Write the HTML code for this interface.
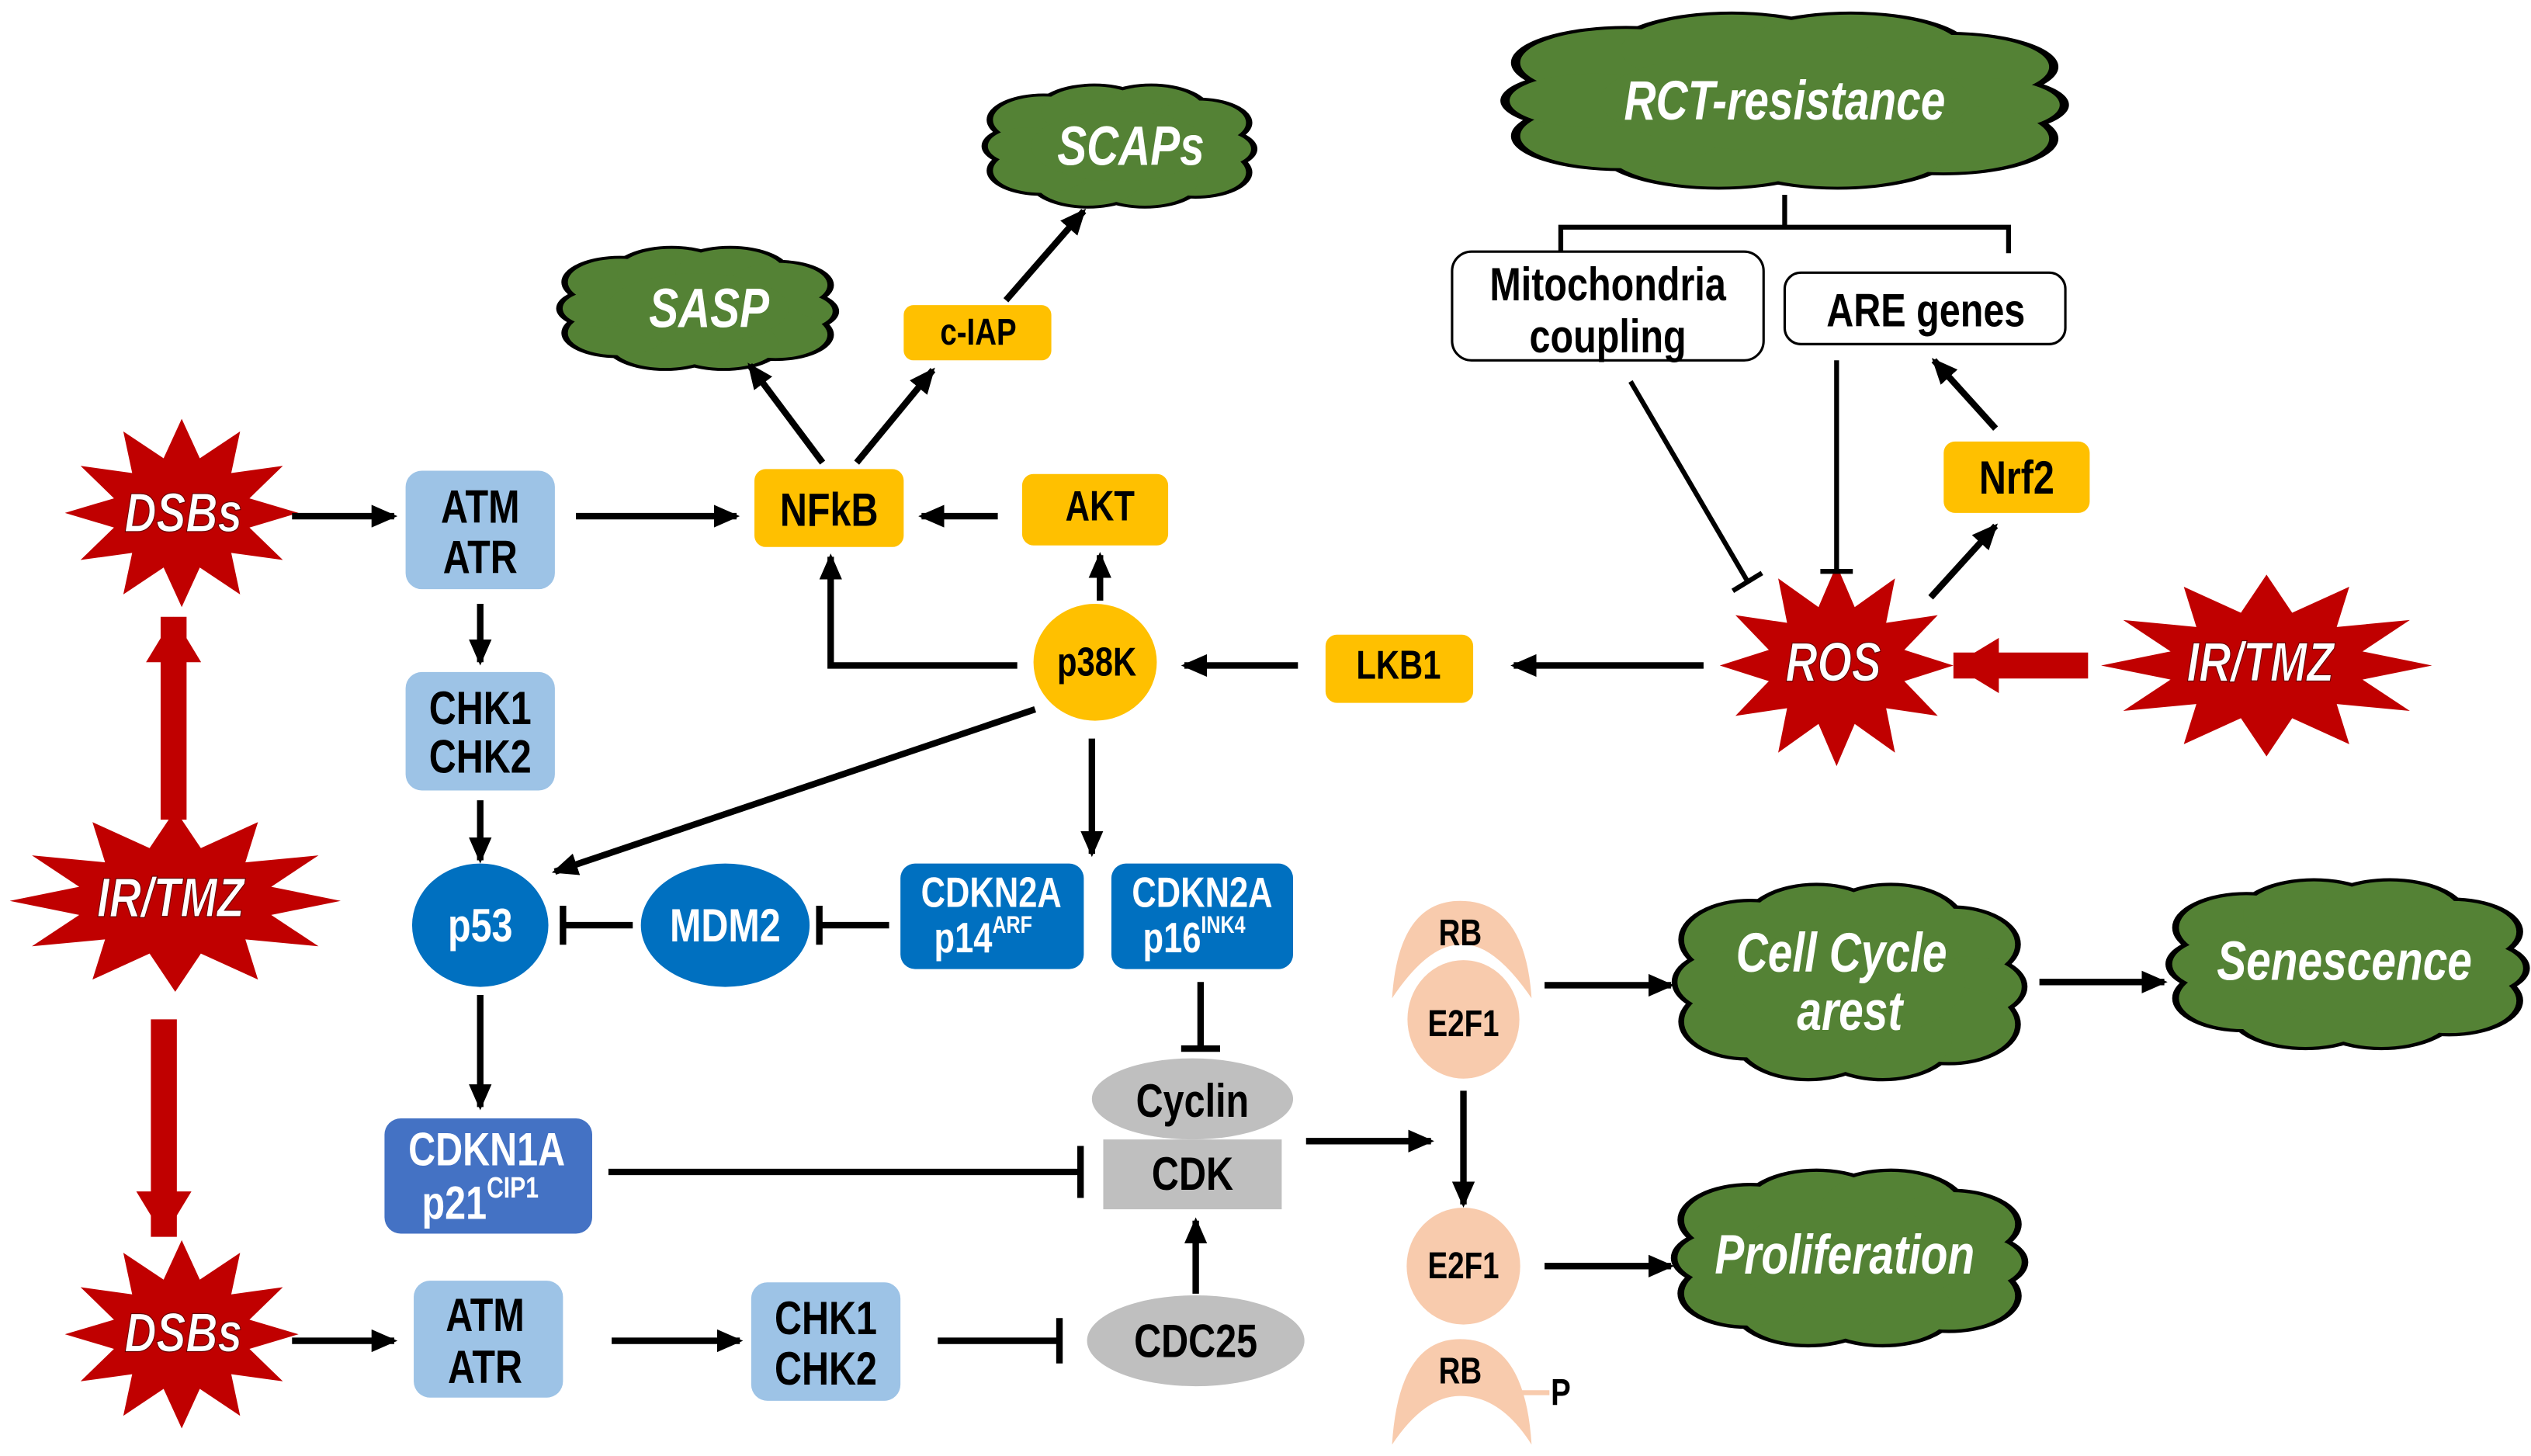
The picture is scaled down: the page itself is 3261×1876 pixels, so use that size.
<!DOCTYPE html>
<html><head><meta charset="utf-8"><style>
html,body{margin:0;padding:0;background:#fff}
svg{display:block}
text{font-family:"Liberation Sans Narrow","Liberation Sans",Arial,sans-serif;font-weight:bold;text-anchor:middle;dominant-baseline:central;transform-box:fill-box;transform-origin:center;transform:scaleX(.8)}
.k{fill:#000;font-size:29px}
.w{fill:#fff;font-size:29px}
.cw{fill:#fff;font-size:34px;font-style:italic}
.sw{fill:#fff;font-size:34px;font-style:italic;stroke:#600;stroke-width:0.6}
.ln{stroke:#000;stroke-width:4;fill:none}
.lt{stroke:#000;stroke-width:3;fill:none}
</style></head><body>
<svg width="3261" height="1876" viewBox="0 0 1560 897" preserveAspectRatio="none" xmlns="http://www.w3.org/2000/svg">
<defs>
<marker id="a" markerWidth="16" markerHeight="14" refX="14" refY="7" orient="auto" markerUnits="userSpaceOnUse"><path d="M0,0 L16,7 L0,14 Z" fill="#000"/></marker>
<marker id="ar" markerWidth="30" markerHeight="34" refX="28" refY="17" orient="auto" markerUnits="userSpaceOnUse"><path d="M0,0 L28,17 L0,34 Z" fill="#c00000"/></marker>
<g id="cl">
<circle cx="-0.6" cy="-0.45" r="0.4"/><circle cx="-0.2" cy="-0.6" r="0.42"/><circle cx="0.25" cy="-0.6" r="0.42"/><circle cx="0.62" cy="-0.4" r="0.38"/><circle cx="0.72" cy="0.05" r="0.32"/><circle cx="0.6" cy="0.45" r="0.4"/><circle cx="0.2" cy="0.6" r="0.42"/><circle cx="-0.25" cy="0.6" r="0.42"/><circle cx="-0.62" cy="0.42" r="0.38"/><circle cx="-0.72" cy="0" r="0.32"/><ellipse cx="0" cy="0" rx="0.7" ry="0.6"/>
</g>
<polygon id="st" points="1,0 0.58,0.155 0.866,0.5 0.424,0.424 0.5,0.866 0.155,0.58 0,1 -0.155,0.58 -0.5,0.866 -0.424,0.424 -0.866,0.5 -0.58,0.155 -1,0 -0.58,-0.155 -0.866,-0.5 -0.424,-0.424 -0.5,-0.866 -0.155,-0.58 0,-1 0.155,-0.58 0.5,-0.866 0.424,-0.424 0.866,-0.5 0.58,-0.155"/>
</defs>

<g fill="#548235">
<use href="#cl" transform="translate(1100,62) scale(163,52)" stroke="#000" stroke-width="0.07"/>
<use href="#cl" transform="translate(1100,62) scale(163,52)"/>
<use href="#cl" transform="translate(690,90) scale(78,36)" stroke="#000" stroke-width="0.1"/>
<use href="#cl" transform="translate(690,90) scale(78,36)"/>
<use href="#cl" transform="translate(430,190) scale(80,36)" stroke="#000" stroke-width="0.1"/>
<use href="#cl" transform="translate(430,190) scale(80,36)"/>
<use href="#cl" transform="translate(1140,605) scale(102,58)" stroke="#000" stroke-width="0.07"/>
<use href="#cl" transform="translate(1140,605) scale(102,58)"/>
<use href="#cl" transform="translate(1447,594) scale(104,50)" stroke="#000" stroke-width="0.08"/>
<use href="#cl" transform="translate(1447,594) scale(104,50)"/>
<use href="#cl" transform="translate(1140,775) scale(102,52)" stroke="#000" stroke-width="0.08"/>
<use href="#cl" transform="translate(1140,775) scale(102,52)"/>
</g>
<text class="cw" x="1100" y="62">RCT-resistance</text>
<text class="cw" x="697" y="90">SCAPs</text>
<text class="cw" x="437" y="190">SASP</text>
<text class="cw" x="1135" y="587">Cell Cycle</text>
<text class="cw" x="1140" y="623">arest</text>
<text class="cw" x="1445" y="592">Senescence</text>
<text class="cw" x="1137" y="773">Proliferation</text>

<line x1="107" y1="505" x2="107" y2="380" stroke="#c00000" stroke-width="16" marker-end="url(#ar)"/>
<line x1="101" y1="628" x2="101" y2="762" stroke="#c00000" stroke-width="16" marker-end="url(#ar)"/>
<line x1="1287" y1="410" x2="1204" y2="410" stroke="#c00000" stroke-width="16" marker-end="url(#ar)"/>

<g fill="#c00000">
<use href="#st" transform="translate(112,316) scale(72,58)"/>
<use href="#st" transform="translate(108,555) scale(102,56)"/>
<use href="#st" transform="translate(112,822) scale(72,58)"/>
<use href="#st" transform="translate(1132,410) scale(72,62)"/>
<use href="#st" transform="translate(1397,410) scale(102,56)"/>
</g>
<text class="sw" x="113" y="316">DSBs</text>
<text class="sw" x="105" y="553">IR/TMZ</text>
<text class="sw" x="113" y="821">DSBs</text>
<text class="sw" x="1130" y="408">ROS</text>
<text class="sw" x="1393" y="408">IR/TMZ</text>

<path class="lt" d="M962,158 V140 H1238 V156 M1100,140 V120"/>

<g>
<rect x="250" y="290" width="92" height="73" rx="10" fill="#9dc3e6"/>
<rect x="250" y="414" width="92" height="73" rx="10" fill="#9dc3e6"/>
<rect x="255" y="789" width="92" height="72" rx="10" fill="#9dc3e6"/>
<rect x="463" y="790" width="92" height="73" rx="10" fill="#9dc3e6"/>
<rect x="465" y="289" width="92" height="48" rx="7" fill="#ffc000"/>
<rect x="630" y="292" width="90" height="44" rx="7" fill="#ffc000"/>
<rect x="557" y="188" width="91" height="34" rx="6" fill="#ffc000"/>
<rect x="817" y="391" width="91" height="42" rx="7" fill="#ffc000"/>
<rect x="1198" y="272" width="90" height="44" rx="7" fill="#ffc000"/>
<ellipse cx="675" cy="408" rx="38" ry="36" fill="#ffc000"/>
<rect x="895" y="155" width="192" height="67" rx="12" fill="#fff" stroke="#000" stroke-width="1.5"/>
<rect x="1100" y="168" width="173" height="44" rx="10" fill="#fff" stroke="#000" stroke-width="1.5"/>
<ellipse cx="296" cy="570" rx="42" ry="38" fill="#0070c0"/>
<ellipse cx="447" cy="570" rx="52" ry="38" fill="#0070c0"/>
<rect x="555" y="532" width="113" height="65" rx="9" fill="#0070c0"/>
<rect x="685" y="532" width="112" height="65" rx="9" fill="#0070c0"/>
<rect x="237" y="689" width="128" height="71" rx="10" fill="#4472c4"/>
<rect x="680" y="702" width="110" height="43" fill="#bfbfbf"/>
<ellipse cx="735" cy="677" rx="62" ry="25" fill="#bfbfbf"/>
<ellipse cx="737" cy="826" rx="67" ry="28" fill="#bfbfbf"/>
<path d="M858,615 Q862,555 900,555 Q940,555 944,615 Q920,580 900,582 Q880,582 858,615 Z" fill="#f8cbad"/>
<ellipse cx="902" cy="628" rx="36" ry="38" fill="#f8cbad" stroke="#fff" stroke-width="3"/>
<ellipse cx="902" cy="780" rx="35" ry="36" fill="#f8cbad"/>
<path d="M858,890 Q862,825 900,825 Q940,825 944,890 Q925,860 900,860 Q878,860 858,890 Z" fill="#f8cbad"/>
<line x1="937" y1="858" x2="955" y2="858" stroke="#f8cbad" stroke-width="3"/>
</g>
<text class="k" x="296" y="312">ATM</text><text class="k" x="296" y="343">ATR</text>
<text class="k" x="296" y="436">CHK1</text><text class="k" x="296" y="466">CHK2</text>
<text class="k" x="299" y="810">ATM</text><text class="k" x="299" y="842">ATR</text>
<text class="k" x="509" y="812">CHK1</text><text class="k" x="509" y="843">CHK2</text>
<text class="k" x="511" y="314">NFkB</text>
<text class="k" x="678" y="312" style="font-size:26px">AKT</text>
<text class="k" x="603" y="205" style="font-size:23px">c-IAP</text>
<text class="k" x="862" y="410" style="font-size:25px">LKB1</text>
<text class="k" x="1243" y="294">Nrf2</text>
<text class="k" x="676" y="408" style="font-size:25px">p38K</text>
<text class="k" x="991" y="175">Mitochondria</text><text class="k" x="991" y="207">coupling</text>
<text class="k" x="1187" y="191">ARE genes</text>
<text class="w" x="296" y="570">p53</text>
<text class="w" x="447" y="570">MDM2</text>
<text class="w" x="611" y="550" style="font-size:26px">CDKN2A</text>
<text class="w" x="606" y="578" style="font-size:26px">p14<tspan font-size="15" dy="-8">ARF</tspan></text>
<text class="w" x="741" y="550" style="font-size:26px">CDKN2A</text>
<text class="w" x="736" y="578" style="font-size:26px">p16<tspan font-size="15" dy="-8">INK4</tspan></text>
<text class="w" x="300" y="708">CDKN1A</text>
<text class="w" x="296" y="741">p21<tspan font-size="18" dy="-9">CIP1</tspan></text>
<text class="k" x="735" y="678">Cyclin</text>
<text class="k" x="735" y="723">CDK</text>
<text class="k" x="737" y="826">CDC25</text>
<text class="k" x="900" y="575" style="font-size:23px">RB</text>
<text class="k" x="902" y="631" style="font-size:23px">E2F1</text>
<text class="k" x="902" y="780" style="font-size:23px">E2F1</text>
<text class="k" x="900" y="845" style="font-size:23px">RB</text>
<text class="k" x="962" y="858" style="font-size:23px">P</text>

<g class="ln">
<line x1="180" y1="318" x2="243" y2="318" marker-end="url(#a)"/>
<line x1="355" y1="318" x2="454" y2="318" marker-end="url(#a)"/>
<line x1="615" y1="318" x2="568" y2="318" marker-end="url(#a)"/>
<line x1="507" y1="285" x2="462" y2="225" marker-end="url(#a)"/>
<line x1="528" y1="285" x2="575" y2="228" marker-end="url(#a)"/>
<line x1="620" y1="185" x2="668" y2="130" marker-end="url(#a)"/>
<line x1="678" y1="370" x2="678" y2="342" marker-end="url(#a)"/>
<polyline points="627,410 512,410 512,343" marker-end="url(#a)"/>
<line x1="800" y1="410" x2="730" y2="410" marker-end="url(#a)"/>
<line x1="1050" y1="410" x2="933" y2="410" marker-end="url(#a)"/>
<line x1="296" y1="372" x2="296" y2="408" marker-end="url(#a)"/>
<line x1="296" y1="493" x2="296" y2="530" marker-end="url(#a)"/>
<line x1="638" y1="437" x2="342" y2="537" marker-end="url(#a)"/>
<line x1="673" y1="455" x2="673" y2="526" marker-end="url(#a)"/>
<line x1="296" y1="613" x2="296" y2="682" marker-end="url(#a)"/>
<line x1="737" y1="797" x2="737" y2="752" marker-end="url(#a)"/>
<line x1="377" y1="826" x2="456" y2="826" marker-end="url(#a)"/>
<line x1="180" y1="826" x2="243" y2="826" marker-end="url(#a)"/>
<line x1="805" y1="703" x2="882" y2="703" marker-end="url(#a)"/>
<line x1="902" y1="672" x2="902" y2="742" marker-end="url(#a)"/>
<line x1="952" y1="607" x2="1030" y2="607" marker-end="url(#a)"/>
<line x1="1257" y1="605" x2="1334" y2="605" marker-end="url(#a)"/>
<line x1="952" y1="780" x2="1030" y2="780" marker-end="url(#a)"/>
<line x1="1190" y1="368" x2="1230" y2="324" marker-end="url(#a)"/>
<line x1="1230" y1="264" x2="1192" y2="222" marker-end="url(#a)"/>
<line x1="390" y1="570" x2="347" y2="570"/><line x1="347" y1="558" x2="347" y2="582"/>
<line x1="548" y1="570" x2="505" y2="570"/><line x1="505" y1="558" x2="505" y2="582"/>
<line x1="375" y1="722" x2="666" y2="722"/><line x1="666" y1="706" x2="666" y2="738"/>
<line x1="740" y1="605" x2="740" y2="646"/><line x1="728" y1="646" x2="752" y2="646"/>
<line x1="578" y1="826" x2="653" y2="826"/><line x1="653" y1="812" x2="653" y2="840"/>
</g>
<g class="lt">
<line x1="1005" y1="235" x2="1077" y2="358"/><line x1="1068" y1="364" x2="1086" y2="353"/>
<line x1="1132" y1="222" x2="1132" y2="352"/><line x1="1122" y1="352" x2="1142" y2="352"/>
</g>
</svg>
</body></html>
